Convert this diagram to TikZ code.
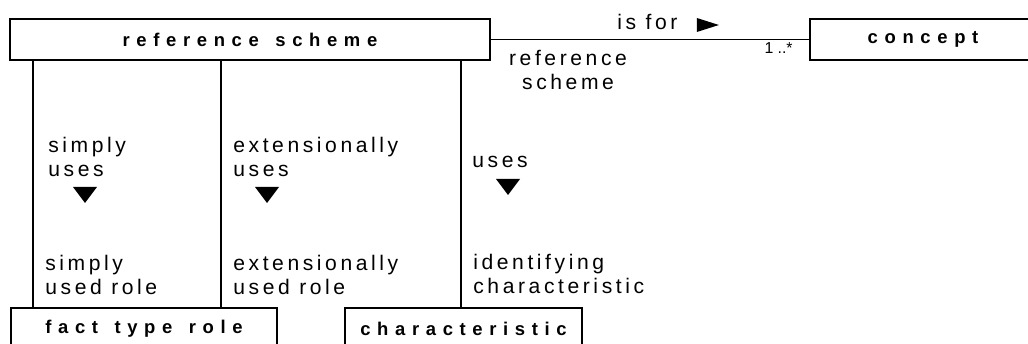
\documentclass[tikz,border=0pt]{standalone}
\usepackage{fontspec}
\setmainfont{Liberation Sans}
\newfontfamily\boxfont{Liberation Sans}[LetterSpace=36,WordSpace=1.4]
\usepackage{tikz}
\usetikzlibrary{positioning,shapes.geometric}

\begin{document}
\begin{tikzpicture}[
    box/.style={rectangle, draw, line width=1.3pt, minimum height=0.82cm, inner sep=0pt,
        font=\boxfont\fontsize{10.5}{12}\selectfont\bfseries},
    lbl/.style={inner sep=0pt, align=left, anchor=base west,
        font=\fontsize{12}{14.2}\selectfont\addfontfeature{LetterSpace=17}},
    tri/.style={isosceles triangle, isosceles triangle stretches, fill=black, inner sep=0pt},
    down/.style={tri, shape border rotate=270, minimum width=0.48cm, minimum height=0.32cm},
    link/.style={line width=1.4pt}
]
\useasboundingbox (0,0) rectangle (20.56,-6.88);
% Classes
\node[box, minimum width=9.6cm] (rs) at (5.0,-0.79) {reference scheme};
\node[box, minimum width=4.52cm] (concept) at (18.46,-0.79) {concept};
\node[box, minimum width=5.32cm] (ftr) at (2.88,-6.57) {fact type role};
\node[box, minimum width=4.74cm] (char) at (9.27,-6.57) {characteristic};
% Association to concept
\draw[line width=1pt] (rs.east) -- (concept.west);
\node[lbl] (isfor) at (12.34,-0.60) {is for};
\node[tri, minimum width=0.28cm, minimum height=0.44cm] (isforarr) at (14.04,-0.50) {};
\node[lbl, align=center, anchor=base] (rsrole) at (11.36,-1.80) {reference\\scheme};
\node[inner sep=0pt, anchor=base east, font=\fontsize{9}{10}\selectfont] (mult) at (15.86,-1.08) {1 ..*};
% Associations downwards
\draw[link] ([xshift=0.48cm]rs.south west) -- ([xshift=0.48cm]rs.south west |- ftr.north);
\draw[link] ([xshift=4.24cm]rs.south west) -- ([xshift=4.24cm]rs.south west |- ftr.north);
\draw[link] ([xshift=9.04cm]rs.south west) -- ([xshift=9.04cm]rs.south west |- char.north);
% Labels (placed by their last line)
\node[lbl] (su) at (0.96,-3.54) {simply\\uses};
\node[down] (suarr) at (1.70,-3.86) {};
\node[lbl] (eu) at (4.66,-3.54) {extensionally\\uses};
\node[down] (euarr) at (5.34,-3.86) {};
\node[lbl] (us) at (9.44,-3.36) {uses};
\node[down] (usarr) at (10.16,-3.70) {};
\node[lbl] (sur) at (0.90,-5.90) {simply\\used role};
\node[lbl] (eur) at (4.66,-5.90) {extensionally\\used role};
\node[lbl] (ic) at (9.46,-5.88) {identifying\\characteristic};
\end{tikzpicture}
\end{document}
